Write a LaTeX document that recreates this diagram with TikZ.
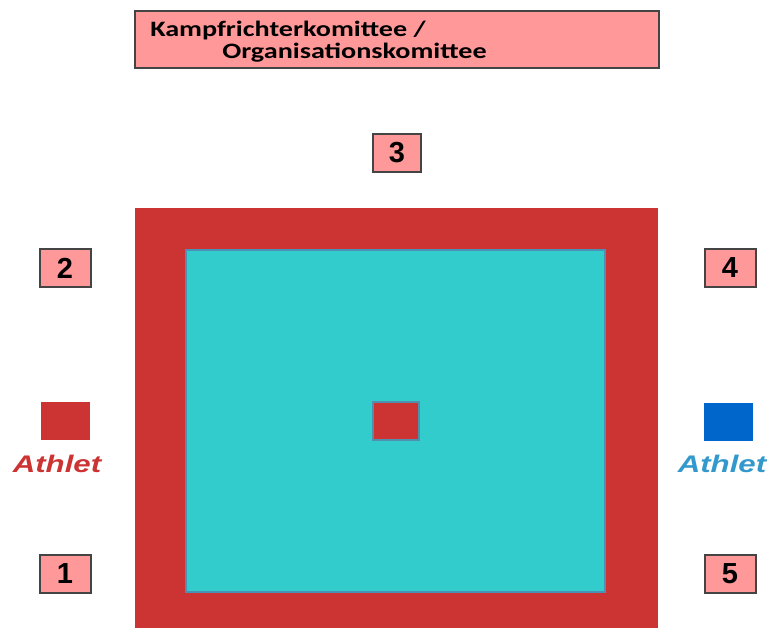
\documentclass[tikz,border=0pt]{standalone}
\usepackage{fontspec}
\setmainfont{Liberation Sans}
\newfontfamily\carlito{Carlito}
\definecolor{fieldred}{HTML}{CC3333}
\definecolor{matcyan}{HTML}{33CCCC}
\definecolor{pinkbox}{HTML}{FF9999}
\definecolor{bluesq}{HTML}{0066CC}
\definecolor{athblue}{HTML}{3399CC}
\definecolor{edgegray}{HTML}{444444}
\tikzset{
  numbox/.style={draw=edgegray, line width=2pt, fill=pinkbox, minimum width=48pt, minimum height=38pt, inner sep=0pt, font=\fontsize{29}{29}\selectfont\bfseries},
  sq/.style={minimum width=49pt, minimum height=38pt, inner sep=0pt},
  athlabel/.style={font=\fontsize{24}{24}\selectfont\bfseries\itshape, xscale=1.3, inner sep=0pt},
  komtext/.style={anchor=base west, inner sep=0pt, xscale=1.28, font=\carlito\fontsize{22}{22}\selectfont\bfseries}
}
\begin{document}
\begin{tikzpicture}[x=1pt,y=-1pt]
\useasboundingbox (0,0) rectangle (770,628);
% top committee box
\node (komitee) [draw=edgegray, line width=2pt, fill=pinkbox, minimum width=524pt, minimum height=57pt, inner sep=0pt] at (397,39.5) {};
\node (k1) [komtext] at (150,37) {Kampfrichterkomittee /};
\node (k2) [komtext] at (222,59) {Organisationskomittee};
% field
\node (field) [fill=fieldred, minimum width=523pt, minimum height=420pt, inner sep=0pt] at (396.5,418) {};
\node (mat) [fill=matcyan, draw=athblue!70!gray, line width=1.5pt, minimum width=419pt, minimum height=342pt, inner sep=0pt] at (395.5,421) {};
\node (center) [fill=fieldred, draw=athblue!60!gray, line width=1.5pt, sq, minimum width=46pt, minimum height=38pt] at (396,421) {};
% judges
\node (j3) [numbox] at (397,153) {3};
\node (j2) [numbox, minimum width=51pt] at (65,268) {2};
\node (j4) [numbox, minimum width=51pt] at (730,268) {4};
\node (j1) [numbox, minimum width=51pt] at (65,574) {1};
\node (j5) [numbox, minimum width=51pt] at (730,574) {5};
% athletes
\node (redath) [fill=fieldred, sq] at (65,421) {};
\node (redlab) [athlabel, text=fieldred] at (57,464) {Athlet};
\node (blueath) [fill=bluesq, sq] at (728,422) {};
\node (bluelab) [athlabel, text=athblue] at (722,464) {Athlet};
\end{tikzpicture}
\end{document}
